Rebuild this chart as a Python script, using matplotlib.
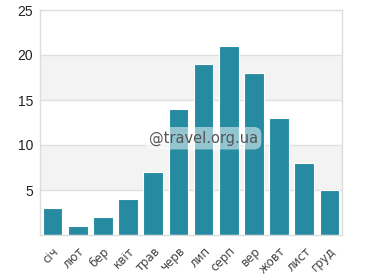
import matplotlib
matplotlib.use("Agg")
import matplotlib.pyplot as plt

months = ["січ", "лют", "бер", "квіт", "трав", "черв", "лип", "серп", "вер", "жовт", "лист", "груд"]
values = [3, 1, 2, 4, 7, 14, 19, 21, 18, 13, 8, 5]
yticks = [5, 10, 15, 20, 25]

plt.rcParams['font.family'] = ['Liberation Sans', 'DejaVu Sans']
fig = plt.figure(figsize=(3.82, 2.80), dpi=100)
ax = fig.add_axes([40/382, 1-235/280, 302/382, 225/280])

for lo in (5, 15):
    ax.axhspan(lo, lo + 5, color="#f3f3f3", zorder=0, lw=0)
for y in yticks[:-1]:
    ax.axhline(y, color="#e0e0e0", lw=1, zorder=1)

x = list(range(len(months)))
ax.bar(x, values, width=0.78, color="#268ba0", edgecolor="white", linewidth=0.8, zorder=2)
ax.set_xlim(-0.5, len(months) - 0.5)
ax.set_ylim(0, 25)
ax.set_yticks(yticks)
ax.set_yticklabels([str(v) for v in yticks], fontsize=10, color="#222222")
ax.set_xticks(x)
ax.set_xticklabels(months, rotation=45, ha="right", rotation_mode="anchor", fontsize=8.5,
                   color="#444444", family="DejaVu Sans")
ax.tick_params(axis="y", length=0, pad=5)
ax.tick_params(axis="x", length=0, pad=7)
for s in ax.spines.values():
    s.set_color("#dddddd")
    s.set_linewidth(1)

ax.text(0.54, 0.43, "@travel.org.ua", transform=ax.transAxes, ha="center", va="center",
        fontsize=10.5, color="#555555", zorder=5, family="DejaVu Sans",
        bbox=dict(boxstyle="round,pad=0.25,rounding_size=0.5", fc="white", ec="none", alpha=0.5))

fig.savefig("out.png", dpi=100)
